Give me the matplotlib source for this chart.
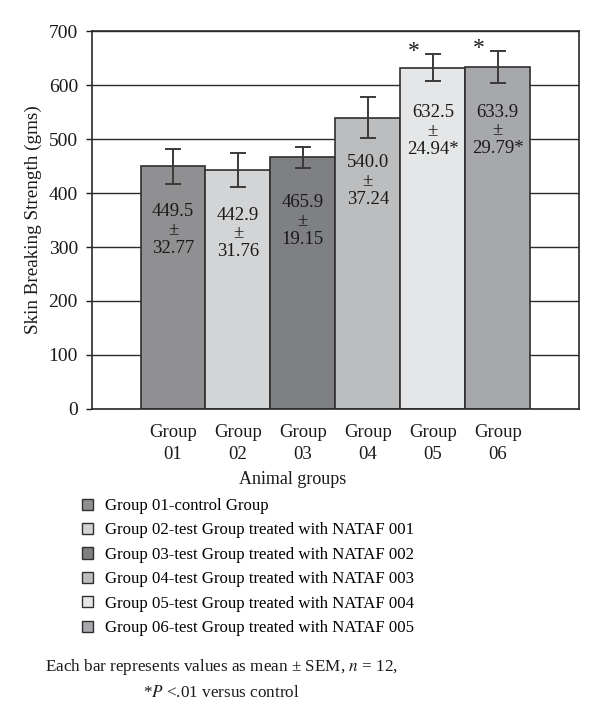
import matplotlib.pyplot as plt
import numpy as np

# Data
groups = ["Group\n01", "Group\n02", "Group\n03", "Group\n04", "Group\n05", "Group\n06"]
means = [449.5, 442.9, 465.9, 540.0, 632.5, 633.9]
sems = [32.77, 31.76, 19.15, 37.24, 24.94, 29.79]
significant = [False, False, False, False, True, True]
bar_colors = ["#909093", "#d3d4d6", "#7f8083", "#bcbdbf", "#e5e6e7", "#a7a8ab"]
legend_labels = [
    "Group 01-control Group",
    "Group 02-test Group treated with NATAF 001",
    "Group 03-test Group treated with NATAF 002",
    "Group 04-test Group treated with NATAF 003",
    "Group 05-test Group treated with NATAF 004",
    "Group 06-test Group treated with NATAF 005",
]
yticks = [0, 100, 200, 300, 400, 500, 600, 700]

plt.rcParams["font.family"] = ["Liberation Serif", "DejaVu Serif"]
plt.rcParams["mathtext.fontset"] = "stix"

fig = plt.figure(figsize=(6, 7.25), dpi=100)
ax = fig.add_axes([0.153, 0.436, 0.812, 0.521])

x = np.arange(len(groups))
ax.set_axisbelow(True)
ax.yaxis.grid(True, color="#2a2a2a", linewidth=1.0)
bars = ax.bar(x, means, width=1.0, color=bar_colors, edgecolor="#2f2f2f",
              linewidth=1.2, zorder=2)
ax.errorbar(x, means, yerr=sems, fmt="none", ecolor="#3a3a3a", elinewidth=1.4,
            capsize=5.5, capthick=1.4, zorder=3)

# value labels inside bars
for xi, m, s, sig in zip(x, means, sems, significant):
    star = "*" if sig else ""
    ax.text(xi, m - 118, f"{m:.1f}\n±\n{s:.2f}{star}", ha="center", va="center",
            fontsize=13.5, linespacing=1.1, color="#1a1a1a", zorder=4)
    if sig:
        ax.text(xi - 0.3, m + s + 5, "*", ha="center", va="center",
                fontsize=17, color="#1a1a1a", zorder=4)

ax.set_xlim(-1.25, len(groups) + 0.25)
ax.set_ylim(0, 700)
ax.set_yticks(yticks)
ax.set_xticks(x)
ax.set_xticklabels(groups, fontsize=13.5, linespacing=1.4)
ax.tick_params(axis="x", length=0, pad=11, colors="#1a1a1a")
ax.tick_params(axis="y", length=4, width=1.0, labelsize=14, colors="#1a1a1a", pad=6)
for sp in ax.spines.values():
    sp.set_color("#2a2a2a")
    sp.set_linewidth(1.2)
ax.set_ylabel("Skin Breaking Strength (gms)", fontsize=13.8, color="#1a1a1a", labelpad=5)
fig.text(0.487, 0.339, "Animal groups", ha="center", va="center", fontsize=13,
         color="#1a1a1a")

# legend
handles = [plt.Rectangle((0, 0), 1, 1, facecolor=c, edgecolor="#2f2f2f", linewidth=1.0)
           for c in bar_colors]
fig.legend(handles, legend_labels, loc="upper left", bbox_to_anchor=(0.137, 0.313),
           frameon=False, fontsize=12.1, handlelength=0.65, handleheight=0.65,
           handletextpad=0.7, labelspacing=0.5, borderaxespad=0, borderpad=0)

fig.text(0.075, 0.08, r"Each bar represents values as mean ± SEM, $n$ = 12,",
         ha="left", va="center", fontsize=12.3, color="#1a1a1a")
fig.text(0.238, 0.044, r"*$P$ <.01 versus control", ha="left", va="center",
         fontsize=12.3, color="#1a1a1a")

fig.savefig("out.png", dpi=100, facecolor="white")
